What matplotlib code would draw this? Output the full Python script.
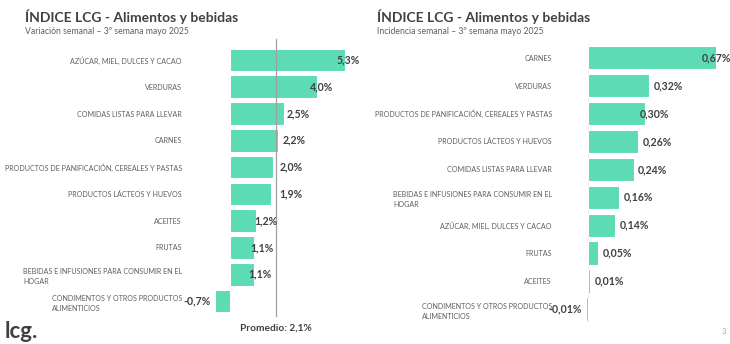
import matplotlib.pyplot as plt
from matplotlib.transforms import blended_transform_factory

plt.rcParams['font.family'] = ['Lato', 'DejaVu Sans']

# datos
var_cats = ["AZÚCAR, MIEL, DULCES Y CACAO", "VERDURAS", "COMIDAS LISTAS PARA LLEVAR",
            "CARNES", "PRODUCTOS DE PANIFICACIÓN, CEREALES Y PASTAS",
            "PRODUCTOS LÁCTEOS Y HUEVOS", "ACEITES", "FRUTAS",
            "BEBIDAS E INFUSIONES PARA CONSUMIR EN EL\nHOGAR",
            "CONDIMENTOS Y OTROS PRODUCTOS\nALIMENTICIOS"]
var_vals = [5.3, 4.0, 2.5, 2.2, 2.0, 1.9, 1.2, 1.1, 1.1, -0.7]
promedio = 2.1

inc_cats = ["CARNES", "VERDURAS", "PRODUCTOS DE PANIFICACIÓN, CEREALES Y PASTAS",
            "PRODUCTOS LÁCTEOS Y HUEVOS", "COMIDAS LISTAS PARA LLEVAR",
            "BEBIDAS E INFUSIONES PARA CONSUMIR EN EL\nHOGAR",
            "AZÚCAR, MIEL, DULCES Y CACAO", "FRUTAS", "ACEITES",
            "CONDIMENTOS Y OTROS PRODUCTOS\nALIMENTICIOS"]
inc_vals = [0.67, 0.32, 0.30, 0.26, 0.24, 0.16, 0.14, 0.05, 0.01, -0.01]

# desplazamiento de etiquetas (px) respecto al final de la barra, como en el original
var_dx = [-9, -7, 2, 5, 6, 8, -2, -4, -6, -4]
inc_dx = [-14, 5, -6, 5, 4, 5, 5, 5, 5, -4]

W, H = 730, 344
verde = '#5cdbb4'
gris_osc = '#404040'
gris = '#5f5f5f'

fig = plt.figure(figsize=(W / 100, H / 100), dpi=100)


def px_axes(x0, y_top, x1, y_bot):
    return fig.add_axes([x0 / W, 1 - y_bot / H, (x1 - x0) / W, (y_bot - y_top) / H])


def barras(ax, cats, vals, dx, dec, bh):
    y = range(len(cats))
    ax.barh(y, vals, height=bh, color=verde, edgecolor='white', linewidth=0.8)
    ax.set_yticks(list(y))
    ax.set_yticklabels(cats, fontsize=5.1, color=gris, linespacing=1.5)
    for lab in ax.get_yticklabels():
        lab.set_multialignment('left')
    ax.tick_params(axis='y', length=0, pad=1.5)
    ax.set_xticks([])
    ax.set_ylim(len(cats) - 0.5, -0.5)
    for s in ax.spines.values():
        s.set_visible(False)
    for i, v in enumerate(vals):
        txt = f"{v:.{dec}f}".replace('.', ',') + '%'
        ax.annotate(txt, (v, i), xytext=(dx[i], 0), textcoords='offset pixels',
                    ha='left' if v >= 0 else 'right', va='center',
                    fontsize=7.6, fontweight='bold', color=gris_osc)


# izquierda: variacion semanal
ax1 = px_axes(184, 46.6, 360, 314.4)
barras(ax1, var_cats, var_vals, var_dx, 1, 0.85)
ax1.set_xlim(-2.12, 5.99)
tr = blended_transform_factory(ax1.transData, fig.transFigure)
ax1.plot([promedio, promedio], [1 - 39 / H, 1 - 316 / H], transform=tr,
         color='#a0a0a0', lw=0.9, clip_on=False)
ax1.text(promedio, 1 - 331 / H, 'Promedio: ' + f"{promedio:.1f}".replace('.', ',') + '%',
         transform=tr, ha='center', va='baseline', fontsize=7.3, fontweight='bold',
         color=gris_osc)

# derecha: incidencia semanal
ax2 = px_axes(554, 43.7, 726, 323)
barras(ax2, inc_cats, inc_vals, inc_dx, 2, 0.84)
ax2.set_xlim(-0.178, 0.722)
ax2.axvline(0, color='#eeeeee', lw=0.8, zorder=0)

# titulos
for x0, sub in [(25, 'Variación semanal – 3º semana mayo 2025'),
                (377, 'Incidencia semanal – 3º semana mayo 2025')]:
    fig.text(x0 / W, 1 - 22.5 / H, 'ÍNDICE LCG - Alimentos y bebidas', fontsize=10,
             fontweight='bold', color=gris_osc, va='baseline')
    fig.text(x0 / W, 1 - 34 / H, sub, fontsize=6.2, color=gris, va='baseline')

fig.text(5 / W, 1 - 337.5 / H, 'lcg.', fontsize=16, fontweight='bold', color=gris_osc,
         va='baseline')
fig.text(726 / W, 1 - 334 / H, '3', fontsize=5.5, color='#a0a0a0', va='baseline', ha='right')

fig.savefig('out.png', dpi=100)
